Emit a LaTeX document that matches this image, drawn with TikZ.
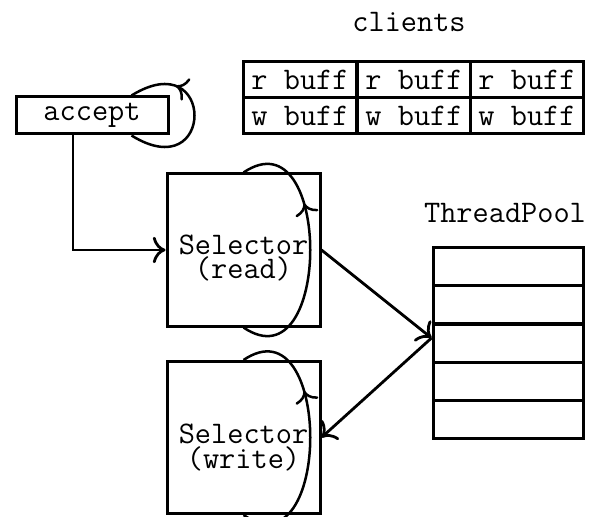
\documentclass[tikz,border=0pt]{standalone}
\usepackage{tikz}
\usetikzlibrary{arrows.meta,calc,decorations.markings}
\definecolor{INK}{HTML}{000000}

\begin{document}
\begin{tikzpicture}[x=0.5pt,y=-0.5pt]
\tikzset{every node/.style={font=\fontsize{15.7}{12.2}\selectfont\ttfamily,INK},
 box/.style={draw,line width=1.5pt,inner sep=0pt,align=center},
 cell/.style={box,minimum width=56.8pt,minimum height=18pt},
 slot/.style={box,minimum width=75pt,minimum height=19pt},
 sel/.style={box,minimum width=76.5pt,minimum height=76pt},
 seltext/.style={align=center,inner sep=0pt},
 conn/.style={line width=1.4pt,INK,-{To[scale=1.35]}},
 loopline/.style={line width=1.25pt,INK,postaction={decorate},
  decoration={markings,mark=at position #1 with {\arrow{To[scale=1.3]}}}}}
\useasboundingbox (0,0) rectangle (603,517);
% client buffers
\node (clients) at (409,22) {clients};
\foreach \c/\x in {1/300,2/414,3/527}{
 \node[cell] (r\c) at (\x,80) {r buff};
 \node[cell] (w\c) at (\x,116) {w buff};}
% acceptor and selectors
\node[box,minimum width=76pt,minimum height=18.5pt] (accept) at (92,115.5) {accept};
\node[sel] (sread) at (243.5,250) {};
\node[seltext] (sreadtxt) at ($(sread)+(0,8)$) {Selector\\(read)};
\node[sel] (swrite) at (243.5,437.5) {};
\node[seltext] (swritetxt) at ($(swrite)+(0,10)$) {Selector\\(write)};
% thread pool
\node (pooltitle) at (505,213) {ThreadPool};
\foreach \i/\y in {1/267,2/305,3/343,4/381,5/419}
 \node[slot] (p\i) at (508,\y) {};
% connections
\draw[conn] ($(accept.south)+(-19,0)$) |- (sread.west);
\draw[conn] (sread.east) -- ($(p3.west)+(0,-5)$);
\draw[conn] ($(p3.west)+(0,-5)$) -- (swrite.east);
% event loops
\draw[loopline=0.72] ($(accept.south east)+(-38,0)$) .. controls +(84,52) and +(84,-52) .. ($(accept.north east)+(-38,0)$);
\draw[loopline=0.68] (sread.south) .. controls +(89,60) and +(89,-60) .. (sread.north);
\draw[loopline=0.68] (swrite.south) .. controls +(89,60) and +(89,-60) .. (swrite.north);
\end{tikzpicture}
\end{document}
